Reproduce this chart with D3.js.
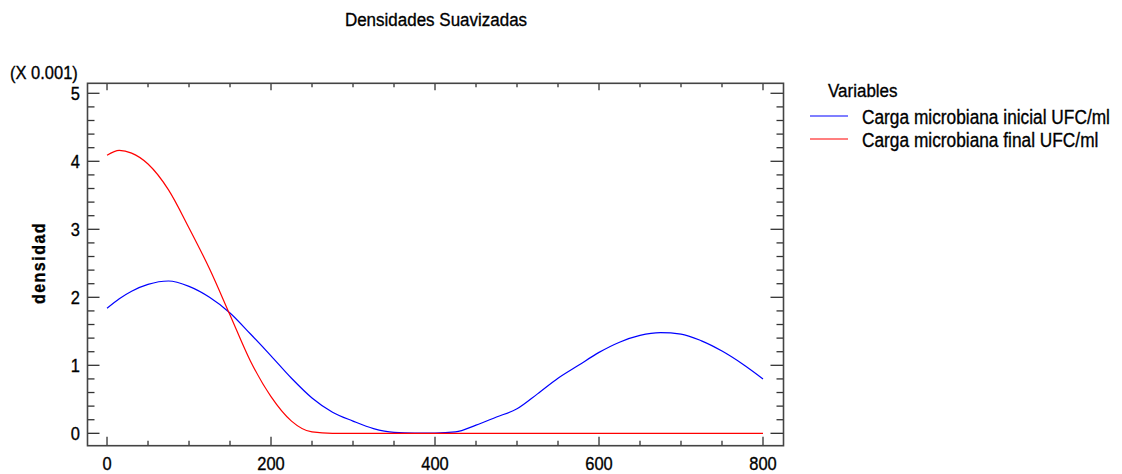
<!DOCTYPE html>
<html>
<head>
<meta charset="utf-8">
<script src="https://cdn.jsdelivr.net/npm/d3@7"></script>
<style>
  html, body { margin: 0; padding: 0; background: #fff; }
  svg { display: block; font-family: "Liberation Sans", Arial, sans-serif; }
  svg text { fill: #000; stroke: #000; stroke-width: 0.3px; }
</style>
</head>
<body>
<svg id="chart" width="1122" height="474"></svg>
<script>
// Smoothed density estimates (values in units of 0.001)
const xValues = [0, 15, 30, 50, 75, 100, 125, 150, 175, 200, 225, 250, 275, 300, 325, 350, 375, 400,
                 425, 450, 475, 500, 525, 550, 575, 600, 625, 650, 675, 700, 725, 750, 775, 800];
const inicial = [1.84, 1.98, 2.09, 2.19, 2.24, 2.16, 2.00, 1.77, 1.46, 1.14, 0.81, 0.52, 0.31, 0.18, 0.07, 0.015, 0.005, 0.005,
                 0.02, 0.12, 0.24, 0.36, 0.58, 0.81, 1.00, 1.19, 1.34, 1.44, 1.48, 1.46, 1.36, 1.21, 1.02, 0.80];
const final = [4.09, 4.16, 4.12, 3.96, 3.58, 3.02, 2.42, 1.74, 1.06, 0.54, 0.18, 0.02, 0, 0, 0, 0, 0, 0,
               0, 0, 0, 0, 0, 0, 0, 0, 0, 0, 0, 0, 0, 0, 0, 0];
const seriesNames = ["Carga microbiana inicial UFC/ml", "Carga microbiana final UFC/ml"];
const seriesColors = ["#0000ff", "#ff0000"];
const xTickLabels = [0, 200, 400, 600, 800];
const yTickLabels = [0, 1, 2, 3, 4, 5];

const svg = d3.select("#chart");
const fontSize = 16.5;
const stretch = 1.12; // taller glyphs than the plain face

// Places a text with its anchor at (px, py), stretched vertically
function label(parent, px, py, str, size, anchor) {
  return parent.append("text")
    .attr("transform", `translate(${px},${py}) scale(1,${stretch})`)
    .attr("text-anchor", anchor || "start")
    .attr("font-size", size)
    .text(str);
}

const plotLeft = 87.5, plotRight = 783.5, plotTop = 83.3, plotBottom = 445.7;
const x = d3.scaleLinear().domain([-23.8, 825]).range([plotLeft, plotRight]);
const y = d3.scaleLinear().domain([-0.182, 5.147]).range([plotBottom, plotTop]);

// Title
label(svg, 436, 26, "Densidades Suavizadas", 17, "middle");

// Multiplier label
label(svg, 10, 79, "(X 0.001)", fontSize);

// Y axis title
svg.append("text")
  .attr("transform", `translate(45,263) rotate(-90) scale(1,${stretch})`)
  .attr("text-anchor", "middle")
  .attr("font-size", 16)
  .attr("font-weight", "bold")
  .attr("letter-spacing", 1.5)
  .text("densidad");

const axisColor = "#333";
const minorX = d3.range(0, 801, 50);
const minorY = d3.range(0, 26).map(i => i * 0.2);

// Ticks on all four sides, pointing inward
const axes = svg.append("g").attr("stroke", axisColor).attr("stroke-width", 1.3);
minorX.forEach(v => {
  const major = v % 200 === 0;
  axes.append("line").attr("x1", x(v)).attr("x2", x(v))
    .attr("y1", plotBottom).attr("y2", plotBottom - (major ? 9 : 5));
  axes.append("line").attr("x1", x(v)).attr("x2", x(v))
    .attr("y1", plotTop).attr("y2", plotTop + (major ? 7 : 4));
});
minorY.forEach(v => {
  const major = Math.abs(v - Math.round(v)) < 1e-6;
  axes.append("line").attr("x1", plotLeft).attr("x2", plotLeft + (major ? 12 : 7))
    .attr("y1", y(v)).attr("y2", y(v));
  axes.append("line").attr("x1", plotRight).attr("x2", plotRight - (major ? 13 : 7))
    .attr("y1", y(v)).attr("y2", y(v));
});

// Frame
svg.append("rect")
  .attr("x", plotLeft).attr("y", plotTop)
  .attr("width", plotRight - plotLeft).attr("height", plotBottom - plotTop)
  .attr("fill", "none").attr("stroke", "#444").attr("stroke-width", 1.6);

// Tick labels
const xLab = svg.append("g");
xTickLabels.forEach(d => label(xLab, x(d), 469.5, d, fontSize, "middle"));
const yLab = svg.append("g");
yTickLabels.forEach(d => label(yLab, 80, y(d) + 6.5, d, fontSize, "end"));

// Density curves
const line = d3.line().x(d => x(d[0])).y(d => y(d[1])).curve(d3.curveMonotoneX);
[inicial, final].forEach((vals, i) => {
  svg.append("path")
    .datum(xValues.map((xv, j) => [xv, vals[j]]))
    .attr("d", line)
    .attr("fill", "none")
    .attr("stroke", seriesColors[i])
    .attr("stroke-width", 1.2);
});

// Legend
label(svg, 828, 97, "Variables", 17);
const legendRows = [116, 139];
seriesNames.forEach((name, i) => {
  svg.append("line")
    .attr("x1", 810).attr("x2", 848)
    .attr("y1", legendRows[i]).attr("y2", legendRows[i])
    .attr("stroke", seriesColors[i]).attr("stroke-width", 1.2);
  label(svg, 862, legendRows[i] + 7.5, name, 17.3);
});
</script>
</body>
</html>
